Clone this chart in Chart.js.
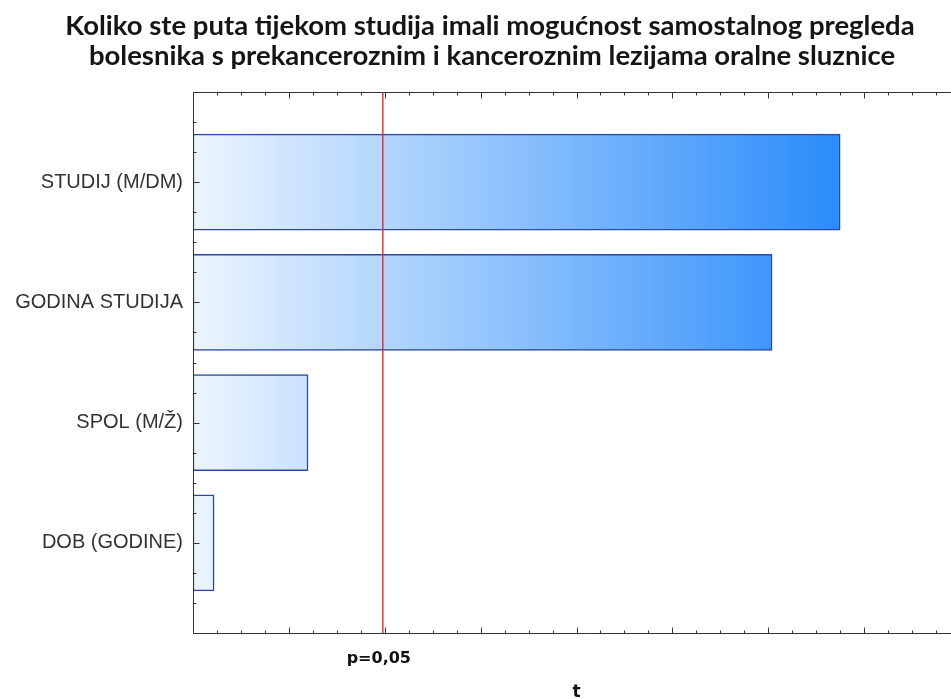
<!DOCTYPE html>
<html>
<head>
<meta charset="utf-8">
<script src="https://cdn.jsdelivr.net/npm/chart.js@4/dist/chart.umd.min.js"></script>
<style>
  html, body { margin: 0; padding: 0; background: #fff; overflow: hidden; }
  #wrap { width: 990px; height: 699px; }
</style>
</head>
<body>
<div id="wrap"><canvas id="myChart" width="990" height="699"></canvas></div>
<script>
var titleLines = [
  'Koliko ste puta tijekom studija imali mogućnost samostalnog pregleda',
  'bolesnika s prekanceroznim i kanceroznim lezijama oralne sluznice'
];
var categories = ['STUDIJ (M/DM)', 'GODINA STUDIJA', 'SPOL (M/Ž)', 'DOB (GODINE)'];
var tValues = [6.75, 6.04, 1.20, 0.22];
var criticalT = 1.98;
var criticalLabel = 'p=0,05';
var axisTitle = 't';
var xMin = 0, xMax = 8;

var barData = [];
for (var i = 0; i < categories.length; i++) {
  barData.push({ x: tValues[i], y: i });
}

function barGradient(ctx) {
  var chart = ctx.chart;
  var area = chart.chartArea;
  if (!area) return '#8ac0f8';
  var xs = chart.scales.x;
  var g = chart.ctx.createLinearGradient(xs.getPixelForValue(0), 0, xs.getPixelForValue(Math.max.apply(null, tValues)), 0);
  g.addColorStop(0, '#ecf5fe');
  g.addColorStop(1, '#2a8cfa');
  return g;
}

// axes frame, inward ticks, critical line and texts
var framePlugin = {
  id: 'frame',
  afterDatasetsDraw: function (chart) {
    var c = chart.ctx;
    var a = chart.chartArea;
    var xs = chart.scales.x;
    var ys = chart.scales.y;
    c.save();

    c.strokeStyle = '#333';
    c.lineWidth = 1;
    var L = Math.round(a.left) + 0.5, T = Math.round(a.top) + 0.5, B = Math.round(a.bottom) + 0.5;
    c.beginPath();
    c.moveTo(a.right + 20, T); c.lineTo(L, T); c.lineTo(L, B); c.lineTo(a.right + 20, B);
    c.stroke();

    c.beginPath();
    for (var v = xMin; v <= xMax; v += 0.25) {
      var px = Math.round(xs.getPixelForValue(v)) + 0.5;
      var len = (Math.abs(v - Math.round(v)) < 1e-6) ? 6 : 3;
      c.moveTo(px, B); c.lineTo(px, B - len);
      c.moveTo(px, T); c.lineTo(px, T + len);
    }
    for (var w = -0.75; w <= 3.75; w += 0.25) {
      var py = Math.round(ys.getPixelForValue(w)) + 0.5;
      var ln = (Math.abs(w - Math.round(w)) < 1e-6) ? 6 : 3;
      c.moveTo(L, py); c.lineTo(L + ln, py);
    }
    c.stroke();

    // red critical line
    var rx = xs.getPixelForValue(criticalT);
    c.strokeStyle = '#e0282c';
    c.lineWidth = 1.4;
    c.beginPath();
    c.moveTo(rx, a.top);
    c.lineTo(rx, a.bottom);
    c.stroke();

    c.fillStyle = '#111';
    c.textAlign = 'center';
    c.textBaseline = 'alphabetic';
    c.font = 'bold 16px "DejaVu Sans", Verdana, sans-serif';
    c.fillText(criticalLabel, rx - 4, 663);
    c.font = 'bold 17px "DejaVu Sans", Verdana, sans-serif';
    c.fillText(axisTitle, (a.left + 960) / 2, 697);

    // title
    c.fillStyle = '#151515';
    c.font = 'bold 27.5px Lato, sans-serif';
    c.fillText(titleLines[0], 490, 35);
    c.fillText(titleLines[1], 492, 65);
    c.restore();
  }
};

var config = {
  type: 'bar',
  data: {
    datasets: [{
      data: barData,
      backgroundColor: barGradient,
      borderColor: '#2a48a4',
      borderWidth: 1.5,
      borderSkipped: false,
      barThickness: 96
    }]
  },
  plugins: [framePlugin],
  options: {
    indexAxis: 'y',
    responsive: false,
    animation: false,
    layout: { padding: { right: 30, left: 0, bottom: 0, top: 92 } },
    plugins: {
      legend: { display: false },
      tooltip: { enabled: false },
      title: { display: false }
    },
    scales: {
      x: {
        type: 'linear',
        min: xMin,
        max: xMax,
        grid: { display: false, drawTicks: false },
        border: { display: false },
        ticks: { display: false },
        afterFit: function (s) { s.height = 66; }
      },
      y: {
        type: 'linear',
        reverse: true,
        offset: false,
        min: -0.75,
        max: 3.75,
        grid: { display: false, drawTicks: false },
        border: { display: false },
        afterBuildTicks: function (s) {
          s.ticks = categories.map(function (c, i) { return { value: i }; });
        },
        ticks: {
          padding: 10,
          color: '#333',
          font: { family: '"Liberation Sans", Arial, sans-serif', size: 20 },
          callback: function (v) { return categories[v]; }
        },
        afterFit: function (s) { s.width = 193; }
      }
    }
  }
};

var ctx = document.getElementById('myChart').getContext('2d');
window.myBar = new Chart(ctx, config);
</script>
</body>
</html>
